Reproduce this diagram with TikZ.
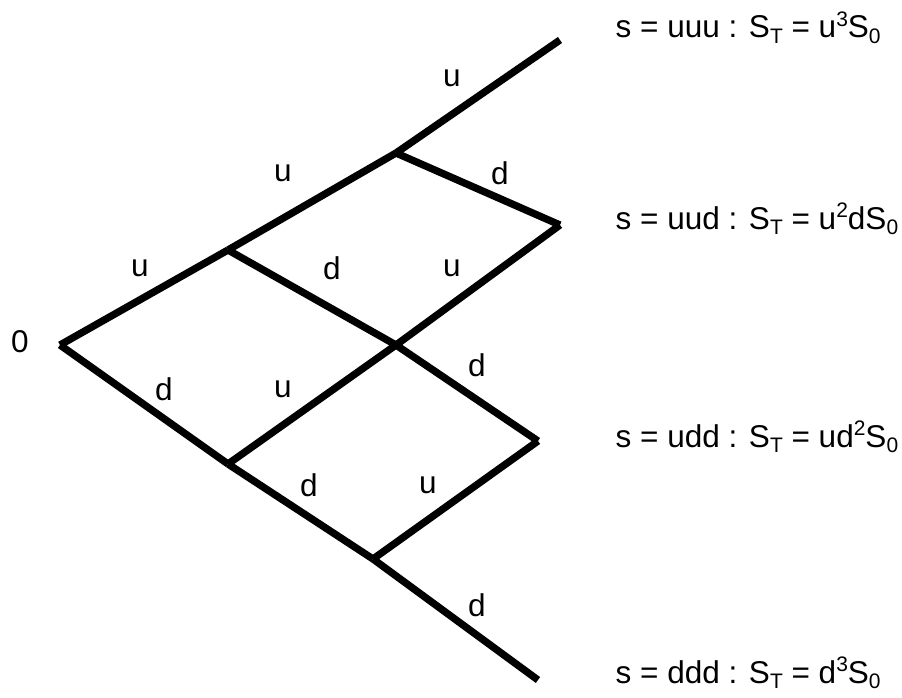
\documentclass[tikz,border=0pt]{standalone}
\usepackage{fontspec}
\setmainfont{Liberation Sans}
\newcommand{\lo}[1]{\raisebox{-0.16em}{\fontsize{21}{21}\selectfont #1}}
\newcommand{\hi}[1]{\raisebox{0.38em}{\fontsize{21}{21}\selectfont #1}}

\begin{document}
\begin{tikzpicture}[x=1pt, y=-1pt, line width=7.3pt,
    every node/.style={font=\fontsize{31.5}{36}\selectfont, inner sep=0pt}]
    \useasboundingbox (0,0) rectangle (902,698);

    % lattice points
    \coordinate (root) at (60,345);
    \coordinate (u)    at (228,250);
    \coordinate (d)    at (228,464);
    \coordinate (uu)   at (396,153);
    \coordinate (ud)   at (396,345);
    \coordinate (dd)   at (373,559);
    \coordinate (uuu)  at (560,40);
    \coordinate (uud)  at (560,225);
    \coordinate (udd)  at (538,441);
    \coordinate (ddd)  at (538,680);

    \foreach \a/\b in {root/u, root/d, u/uu, u/ud, d/ud, d/dd,
        uu/uuu, uu/uud, ud/uud, ud/udd, dd/udd, dd/ddd} {
        \draw (\a) -- (\b);
    }

    \node (zero) at (20,342) {0};

    % moves
    \node (m1) at (140,268) {u};
    \node (m2) at (164,389) {d};
    \node (m3) at (283,173) {u};
    \node (m4) at (332,268) {d};
    \node (m5) at (283,389) {u};
    \node (m6) at (309,485) {d};
    \node (m7) at (452,78)  {u};
    \node (m8) at (500,173) {d};
    \node (m9) at (452,268) {u};
    \node (m10) at (477,365) {d};
    \node (m11) at (428,485) {u};
    \node (m12) at (477,605) {d};

    % outcomes
    \node[anchor=base west] (s1) at (612,38)
        {s = uuu : S\lo{T} = u\hi{3}S\lo{0}};
    \node[anchor=base west] (s2) at (612,229)
        {s = uud : S\lo{T} = u\hi{2}dS\lo{0}};
    \node[anchor=base west] (s3) at (612,447)
        {s = udd : S\lo{T} = ud\hi{2}S\lo{0}};
    \node[anchor=base west] (s4) at (612,683)
        {s = ddd : S\lo{T} = d\hi{3}S\lo{0}};
\end{tikzpicture}
\end{document}
